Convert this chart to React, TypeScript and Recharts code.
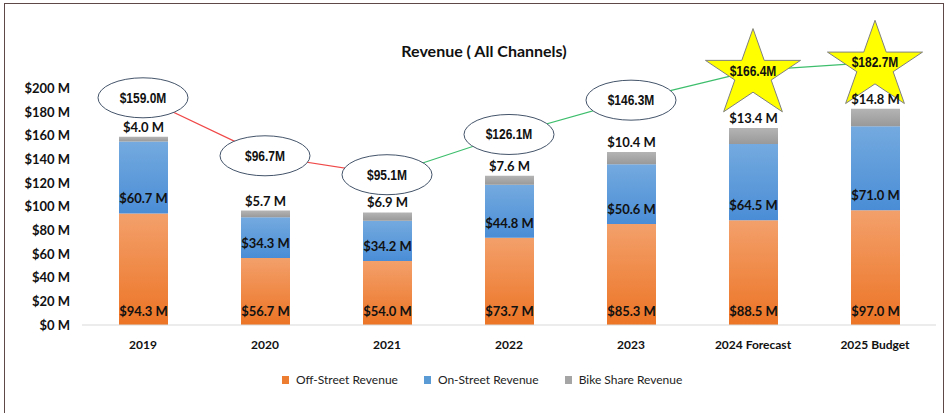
import React from "react";
import { ComposedChart, Bar, Line, XAxis, YAxis, LabelList } from "recharts";

const categories = ["2019", "2020", "2021", "2022", "2023", "2024 Forecast", "2025 Budget"];
const offStreet = [94.3, 56.7, 54.0, 73.7, 85.3, 88.5, 97.0];
const onStreet = [60.7, 34.3, 34.2, 44.8, 50.6, 64.5, 71.0];
const bikeShare = [4.0, 5.7, 6.9, 7.6, 10.4, 13.4, 14.8];
const totals = [159.0, 96.7, 95.1, 126.1, 146.3, 166.4, 182.7];
// where the total callouts sit on the value axis
const calloutLevel = [192, 143, 127, 161, 190, 215, 222];
const yTicks = [0, 20, 40, 60, 80, 100, 120, 140, 160, 180, 200];

const FONT = "Lato, 'Open Sans', sans-serif";
const NARROW = "'Liberation Sans', Arial, sans-serif";

const n = categories.length;
const falling = (i: number) =>
  (i > 0 && totals[i] < totals[i - 1]) || (i < n - 1 && totals[i + 1] < totals[i]);
const rising = (i: number) =>
  (i > 0 && totals[i] >= totals[i - 1]) || (i < n - 1 && totals[i + 1] >= totals[i]);

const data = categories.map((name, i) => {
  const star = /Forecast|Budget/.test(name);
  return {
    name,
    offStreet: offStreet[i],
    onStreet: onStreet[i],
    bikeShare: bikeShare[i],
    total: totals[i],
    star,
    callout: calloutLevel[i],
    starLevel: star ? calloutLevel[i] : null,
    down: falling(i) ? calloutLevel[i] : null,
    up: rising(i) ? calloutLevel[i] : null,
  };
});

const fmtM = (v: number) => `$${v.toFixed(1)} M`;

function box(p: any) {
  const vb = p.viewBox && p.viewBox.width != null ? p.viewBox : p;
  return { x: Number(vb.x), y: Number(vb.y), w: Number(vb.width), h: Number(vb.height) };
}

function insideLabel(lift: number) {
  return (p: any) => {
    const { x, y, w, h } = box(p);
    return (
      <text x={x + w / 2} y={y + h - lift} textAnchor="middle" dominantBaseline="central"
        fontFamily={FONT} fontWeight={700} fontSize={13} fill="#111">
        {fmtM(Number(p.value))}
      </text>
    );
  };
}

function topLabel(p: any) {
  const { x, y, w } = box(p);
  return (
    <text x={x + w / 2} y={y - 10} textAnchor="middle" dominantBaseline="central"
      fontFamily={FONT} fontWeight={700} fontSize={13} fill="#111">
      {fmtM(Number(p.value))}
    </text>
  );
}

function starPoints(cx: number, cy: number, rx: number, ry: number) {
  const pts: string[] = [];
  for (let k = 0; k < 10; k++) {
    const a = -Math.PI / 2 + (k * Math.PI) / 5;
    const f = k % 2 === 0 ? 1 : 0.382;
    pts.push(`${cx + Math.cos(a) * rx * f},${cy + Math.sin(a) * ry * f}`);
  }
  return pts.join(" ");
}

function StarDot(p: any) {
  const { cx, cy, index } = p;
  if (cx == null || cy == null || p.value == null) return <g key={`s${index}`} />;
  return (
    <polygon key={`s${index}`} points={starPoints(cx, cy + 4, 50, 46)}
      fill="#FFFF00" stroke="#808080" strokeWidth={1} />
  );
}

function CalloutDot(p: any) {
  const { cx, cy, index, payload } = p;
  if (cx == null || cy == null) return <g key={`c${index}`} />;
  const txt = `$${payload.total.toFixed(1)}M`;
  return (
    <g key={`c${index}`}>
      {!payload.star && (
        <ellipse cx={cx} cy={cy} rx={45} ry={20} fill="#fff" stroke="#44546A" strokeWidth={1} />
      )}
      <text transform={`translate(${cx},${cy}) scale(0.8,1)`} x={0} y={0}
        textAnchor="middle" dominantBaseline="central"
        fontFamily={NARROW} fontWeight={700} fontSize={15} fill="#111">
        {txt}
      </text>
    </g>
  );
}

const legendItems = [
  { label: "Off-Street Revenue", color: "#ED7D31" },
  { label: "On-Street Revenue", color: "#5B9BD5" },
  { label: "Bike Share Revenue", color: "#A5A5A5" },
];

export default function App() {
  return (
    <div style={{ position: "absolute", left: 0, top: 0, width: 950, height: 413, background: "#fff", overflow: "hidden" }}>
      <div style={{ position: "absolute", left: 4, top: 3, width: 938, height: 430, border: "1px solid #5E4848" }} />
      <div style={{
        position: "absolute", left: 334, top: 40, width: 300, textAlign: "center",
        fontFamily: FONT, fontWeight: 700, fontSize: 16, lineHeight: "22px", color: "#111",
      }}>
        Revenue ( All Channels)
      </div>
      <div style={{ position: "absolute", left: 0, top: 0 }}>
        <ComposedChart width={950} height={413} data={data}
          margin={{ top: 41, right: 14, left: 4, bottom: 58 }}>
          <defs>
            <linearGradient id="gOff" x1="0" y1="0" x2="0" y2="1">
              <stop offset="0%" stopColor="#F3A06B" />
              <stop offset="100%" stopColor="#EC7425" />
            </linearGradient>
            <linearGradient id="gOn" x1="0" y1="0" x2="0" y2="1">
              <stop offset="0%" stopColor="#74AADF" />
              <stop offset="100%" stopColor="#4A8DD6" />
            </linearGradient>
            <linearGradient id="gBike" x1="0" y1="0" x2="0" y2="1">
              <stop offset="0%" stopColor="#B4B4B4" />
              <stop offset="100%" stopColor="#999999" />
            </linearGradient>
          </defs>
          <XAxis dataKey="name" interval={0} tickLine={false} height={30} tickMargin={9}
            axisLine={{ stroke: "#D9D9D9" }}
            tick={{ fontFamily: FONT, fontWeight: 700, fontSize: 12, fill: "#111" }} />
          <YAxis domain={[0, 240]} ticks={yTicks} width={78} axisLine={false} tickLine={false}
            tickMargin={6} tickFormatter={(v) => `$${v} M`}
            tick={{ fontFamily: FONT, fontWeight: 700, fontSize: 13, fill: "#111" }} />
          <Bar dataKey="offStreet" stackId="rev" fill="url(#gOff)" barSize={49} isAnimationActive={false}>
            <LabelList dataKey="offStreet" content={insideLabel(14)} />
          </Bar>
          <Bar dataKey="onStreet" stackId="rev" fill="url(#gOn)" barSize={49} isAnimationActive={false}>
            <LabelList dataKey="onStreet" content={insideLabel(15)} />
          </Bar>
          <Bar dataKey="bikeShare" stackId="rev" fill="url(#gBike)" barSize={49} isAnimationActive={false}>
            <LabelList dataKey="bikeShare" content={topLabel} />
          </Bar>
          <Line dataKey="starLevel" stroke="none" dot={StarDot} activeDot={false}
            legendType="none" isAnimationActive={false} />
          <Line dataKey="down" stroke="#F04848" strokeWidth={1.2} dot={false} activeDot={false}
            legendType="none" isAnimationActive={false} />
          <Line dataKey="up" stroke="#3DBE6C" strokeWidth={1.2} dot={false} activeDot={false}
            legendType="none" isAnimationActive={false} />
          <Line dataKey="callout" stroke="none" dot={CalloutDot} activeDot={false}
            legendType="none" isAnimationActive={false} />
        </ComposedChart>
      </div>
      <div style={{ position: "absolute", left: 282, top: 372, display: "flex", alignItems: "center",
        fontFamily: FONT, fontSize: 12, color: "#222" }}>
        {legendItems.map((it, i) => (
          <div key={it.label} style={{ display: "flex", alignItems: "center", marginLeft: i ? 26 : 0 }}>
            <span style={{ width: 7, height: 8, background: it.color, marginRight: 7 }} />
            <span style={{ lineHeight: "16px" }}>{it.label}</span>
          </div>
        ))}
      </div>
    </div>
  );
}
